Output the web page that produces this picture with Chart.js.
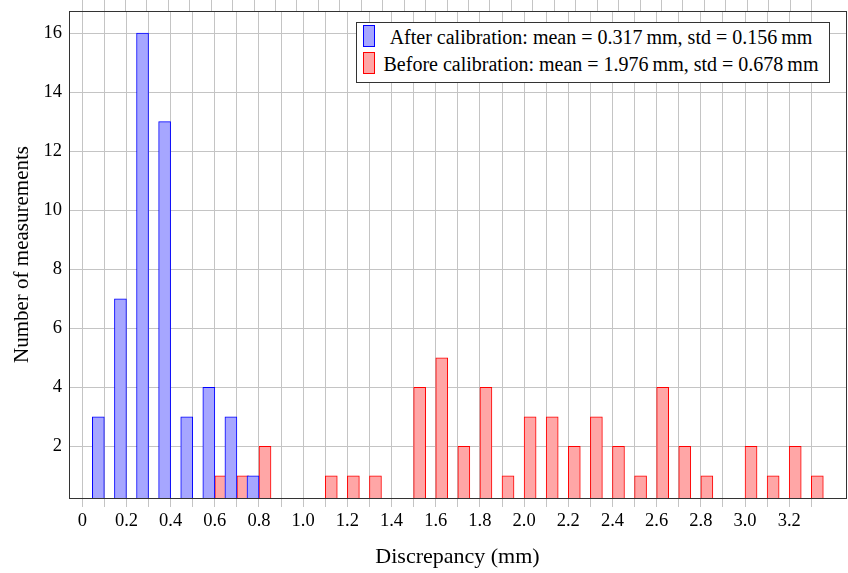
<!DOCTYPE html>
<html>
<head>
<meta charset="utf-8">
<script src="https://cdn.jsdelivr.net/npm/chart.js@4.4.0/dist/chart.umd.min.js"></script>
<style>
    html, body { margin: 0; padding: 0; background: #fff; }
    #wrap { position: relative; width: 848px; height: 573px; }
    #legend {
        position: absolute; left: 356px; top: 22px; width: 472px; height: 59px;
        border: 1px solid #333; background: #fff;
        font-family: "Liberation Serif", serif; font-size: 20px; color: #000;
    }
    .row { position: absolute; left: 0; width: 100%; height: 27px; }
    .swatch { position: absolute; left: 6px; top: 2px; width: 10px; height: 20px; border: 1px solid; }
    .label { position: absolute; left: 22px; right: 6px; top: 2px; text-align: center; line-height: 24px; white-space: nowrap; }
</style>
</head>
<body>
<div id="wrap">
    <canvas id="chart" width="848" height="573"></canvas>
    <div id="legend"></div>
</div>
<script>
const binsAfter = [0.1, 0.2, 0.3, 0.4, 0.5, 0.6, 0.7, 0.8];
const countsAfter = [3, 7, 16, 13, 3, 4, 3, 1];
const binsBefore = [0.6, 0.7, 0.8, 1.1, 1.2, 1.3, 1.5, 1.6, 1.7, 1.8, 1.9, 2.0,
    2.1, 2.2, 2.3, 2.4, 2.5, 2.6, 2.7, 2.8, 3.0, 3.1, 3.2, 3.3];
const countsBefore = [1, 1, 2, 1, 1, 1, 4, 5, 2, 4, 1, 3,
    3, 2, 3, 2, 1, 4, 2, 1, 2, 1, 2, 1];
const seriesNames = [
    "After calibration: mean = 0.317\u2009mm, std = 0.156\u2009mm",
    "Before calibration: mean = 1.976\u2009mm, std = 0.678\u2009mm",
];
const xGridValues = [0, 0.1, 0.2, 0.3, 0.4, 0.5, 0.6, 0.7, 0.8, 0.9, 1.0, 1.1, 1.2, 1.3, 1.4, 1.5, 1.6,
    1.7, 1.8, 1.9, 2.0, 2.1, 2.2, 2.3, 2.4, 2.5, 2.6, 2.7, 2.8, 2.9, 3.0, 3.1, 3.2, 3.3];
const xTickValues = [0, 0.2, 0.4, 0.6, 0.8, 1.0, 1.2, 1.4, 1.6, 1.8, 2.0, 2.2, 2.4, 2.6, 2.8, 3.0, 3.2];
const xTickLabels = ["0", "0.2", "0.4", "0.6", "0.8", "1.0", "1.2", "1.4", "1.6", "1.8", "2.0",
    "2.2", "2.4", "2.6", "2.8", "3.0", "3.2"];
const yTicks = [2, 4, 6, 8, 10, 12, 14, 16];

const GRID = "#c4c4c4";
const AXIS = "#333";
const X_MIN = -0.06, X_MAX = 3.457;

Chart.defaults.font.family = "'Liberation Serif', serif";
Chart.defaults.color = "#000";

const toPoints = (xs, ys) => xs.map((x, i) => ({ x: x, y: ys[i] }));
const xLabel = (value) => {
    const i = xTickValues.findIndex((v) => Math.abs(v - value) < 1e-9);
    return i < 0 ? "" : xTickLabels[i];
};
const setXGrid = (axis) => { axis.ticks = xGridValues.map((v) => ({ value: v })); };
// fixed box sizes, and no extra padding from the tick labels
const fitBox = (w, h) => (axis) => {
    if (w !== null) axis.width = w;
    if (h !== null) axis.height = h;
    axis.paddingTop = 0;
    axis.paddingBottom = 0;
    axis.paddingLeft = 0;
    axis.paddingRight = 0;
};

const ctx = document.getElementById("chart").getContext("2d");
const chart = new Chart(ctx, {
    type: "bar",
    data: {
        datasets: [
            {
                label: seriesNames[0],
                data: toPoints(binsAfter, countsAfter),
                backgroundColor: "#a6a6ff",
                borderColor: "#0000ff",
                borderWidth: 1,
            },
            {
                label: seriesNames[1],
                data: toPoints(binsBefore, countsBefore),
                backgroundColor: "#ffa6a6",
                borderColor: "#ff0000",
                borderWidth: 1,
            },
        ],
    },
    options: {
        responsive: false,
        animation: false,
        grouped: true,
        barThickness: 12,
        layout: { padding: 0 },
        plugins: {
            legend: { display: false },
            tooltip: { enabled: false },
        },
        scales: {
            x: {
                type: "linear",
                position: "bottom",
                min: X_MIN,
                max: X_MAX,
                offset: false,
                afterBuildTicks: setXGrid,
                afterFit: fitBox(null, 75),
                grid: { offset: false, color: GRID, tickLength: 9, tickColor: GRID },
                border: { color: AXIS },
                ticks: { autoSkip: false, maxRotation: 0, padding: 3, font: { size: 18.5 }, callback: xLabel },
                title: {
                    display: true,
                    text: "Discrepancy (mm)",
                    font: { size: 22 },
                    padding: { top: 0, bottom: 3 },
                },
            },
            xTop: {
                type: "linear",
                position: "top",
                min: X_MIN,
                max: X_MAX,
                afterBuildTicks: setXGrid,
                afterFit: fitBox(null, 11),
                grid: { drawOnChartArea: false, color: GRID, tickLength: 11 },
                border: { color: AXIS },
                ticks: { display: false },
            },
            y: {
                type: "linear",
                position: "left",
                min: 0.25,
                max: 16.75,
                afterBuildTicks: (axis) => { axis.ticks = yTicks.map((v) => ({ value: v })); },
                afterFit: fitBox(69, null),
                grid: { color: GRID, drawTicks: false },
                border: { color: AXIS },
                ticks: { padding: 7, font: { size: 18.5 } },
                title: {
                    display: true,
                    text: "Number of measurements",
                    font: { size: 21 },
                    padding: { top: 10, bottom: 0 },
                },
            },
            yRight: {
                type: "linear",
                position: "right",
                min: 0.25,
                max: 16.75,
                afterFit: fitBox(2, null),
                grid: { drawOnChartArea: false, drawTicks: false },
                border: { color: AXIS },
                ticks: { display: false },
            },
        },
    },
});

// boxed legend in the upper right, like the pgfplots one
const legend = document.getElementById("legend");
chart.data.datasets.forEach((ds, i) => {
    const row = document.createElement("div");
    row.className = "row";
    row.style.top = (i * 27) + "px";
    const sw = document.createElement("div");
    sw.className = "swatch";
    sw.style.background = ds.backgroundColor;
    sw.style.borderColor = ds.borderColor;
    const txt = document.createElement("div");
    txt.className = "label";
    txt.textContent = ds.label;
    row.appendChild(sw);
    row.appendChild(txt);
    legend.appendChild(row);
});
</script>
</body>
</html>
